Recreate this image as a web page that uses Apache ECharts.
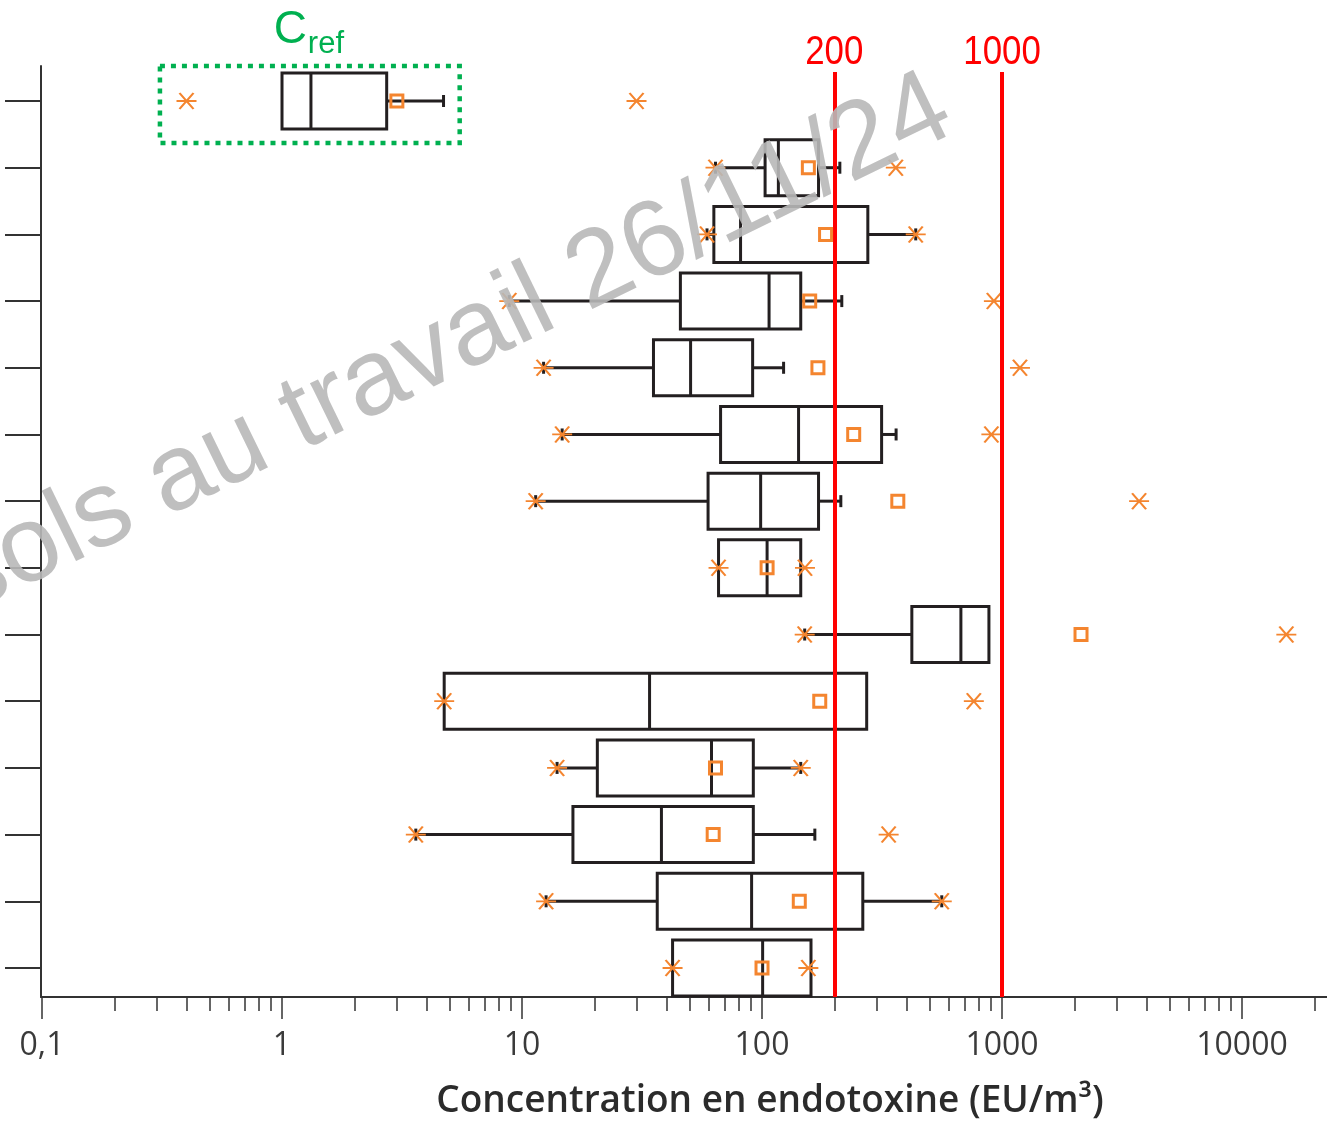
<!DOCTYPE html>
<html>
<head>
<meta charset="utf-8">
<script src="https://cdn.jsdelivr.net/npm/echarts@6/dist/echarts.min.js"></script>
<style>
  html, body { margin: 0; padding: 0; background: #ffffff; }
  #chart { width: 1327px; height: 1121px; }
</style>
</head>
<body>
<div id="chart"></div>
<script>
// ---- data (EU/m3), rows from top (1) to bottom (14) ----
const rows   = [1, 2, 3, 4, 5, 6, 7, 8, 9, 10, 11, 12, 13, 14];
const lowW   = [1.0, 64, 59, 8.85, 12.3, 14.7, 11.4, 65.9, 150.6, 4.74, 14, 3.61, 12.6, 42.4];   // lower whisker end
const q1     = [1.0, 103, 63, 45.7, 35.3, 67.2, 59.6, 65.9, 421, 4.74, 20.6, 16.3, 36.6, 42.4];
const median = [1.32, 117, 81.4, 107, 50.4, 142, 98.7, 105, 674, 34, 61.6, 38.1, 90.5, 100.6];
const q3     = [2.73, 172, 276, 145, 91.4, 315, 172, 145, 882, 273, 92, 92, 263, 160];
const highW  = [4.71, 211, 437, 215, 123, 362, 213, 145, 882, 273, 145, 166, 561, 160];  // upper whisker end
const minV   = [0.40, 64, 59, 8.85, 12.3, 14.7, 11.4, 65.9, 150.6, 4.74, 14, 3.61, 12.6, 42.4];
const maxV   = [30, 361, 437, 925, 1188, 903, 3725, 151, 15300, 763, 145, 337, 561, 156];
const meanV  = [3.01, 156, 184, 158, 171, 241, 368, 105, 2134, 174, 64, 62.6, 143, 100];
const limits = [200, 1000];
const limitLabels = ['200', '1000'];
const majorTicks = [0.1, 1, 10, 100, 1000, 10000];
const minorTicks = [];
majorTicks.forEach(d => { for (let k = 2; k <= 9; k++) minorTicks.push(+(d * k).toPrecision(6)); });
const xMin = 0.09904, xMax = 22600;
const axisTitle = 'Concentration en endotoxine (EU/m³)';
const watermark = 'aérosols au travail 26/11/24';
const refBox = { x0: 0.31, x1: 5.5, y0: 0.415, y1: 1.63 };

const ORANGE = '#f4852f';
const BLACK = '#231f20';
const GREEN = '#00b050';

const chart = echarts.init(document.getElementById('chart'), null, { renderer: 'canvas' });

const boxData = rows.map((r, i) => [r, lowW[i], q1[i], median[i], q3[i], highW[i]]);
const starData = [];
rows.forEach((r, i) => { starData.push([minV[i], r]); starData.push([maxV[i], r]); });
const meanData = rows.map((r, i) => [meanV[i], r]);

function renderBox(params, api) {
  const r = api.value(0);
  const p = [1, 2, 3, 4, 5].map(k => api.coord([api.value(k), r]));
  const y = p[0][1];
  const h = Math.abs(api.coord([1, r + 0.42])[1] - api.coord([1, r - 0.42])[1]);
  const cap = 12;
  const ls = { stroke: BLACK, lineWidth: 3, fill: 'none' };
  const ch = [];
  ch.push({ type: 'rect', shape: { x: p[1][0], y: y - h / 2, width: p[3][0] - p[1][0], height: h }, style: ls });
  ch.push({ type: 'line', shape: { x1: p[2][0], y1: y - h / 2, x2: p[2][0], y2: y + h / 2 }, style: ls });
  if (api.value(1) < api.value(2)) {
    ch.push({ type: 'line', shape: { x1: p[0][0], y1: y, x2: p[1][0], y2: y }, style: ls });
    ch.push({ type: 'line', shape: { x1: p[0][0], y1: y - cap / 2, x2: p[0][0], y2: y + cap / 2 }, style: ls });
  }
  if (api.value(5) > api.value(4)) {
    ch.push({ type: 'line', shape: { x1: p[3][0], y1: y, x2: p[4][0], y2: y }, style: ls });
    ch.push({ type: 'line', shape: { x1: p[4][0], y1: y - cap / 2, x2: p[4][0], y2: y + cap / 2 }, style: ls });
  }
  return { type: 'group', children: ch };
}

const option = {
  animation: false,
  backgroundColor: '#ffffff',
  grid: { left: 41, right: 0, top: 66, bottom: 124, containLabel: false },
  xAxis: [
    {
      type: 'log', logBase: 10, min: xMin, max: xMax, gridIndex: 0,
      axisLine: { show: true, onZero: false, lineStyle: { color: '#333', width: 2 } },
      axisTick: { show: true, inside: false, length: 22, customValues: majorTicks, lineStyle: { color: '#333', width: 1.5 } },
      axisLabel: {
        show: true, customValues: majorTicks, margin: 33,
        fontFamily: 'Open Sans', fontSize: 32, color: '#3a3a3a',
        formatter: v => String(+(+v).toPrecision(6)).replace('.', ',')
      },
      splitLine: { show: false }, minorTick: { show: false }
    },
    {
      type: 'log', logBase: 10, min: xMin, max: xMax, gridIndex: 0, position: 'bottom',
      axisLine: { show: false },
      axisTick: { show: true, inside: false, length: 14, customValues: minorTicks, lineStyle: { color: '#333', width: 1.5 } },
      axisLabel: { show: false },
      splitLine: { show: false }
    }
  ],
  yAxis: {
    type: 'value', inverse: true, min: 0.475, max: 14.435,
    axisLine: { show: true, lineStyle: { color: '#333', width: 2 } },
    axisTick: { show: true, inside: false, length: 36, customValues: rows, lineStyle: { color: '#333', width: 2 } },
    axisLabel: { show: false },
    splitLine: { show: false }
  },
  series: [
    {
      type: 'custom', name: 'box', renderItem: renderBox, data: boxData, z: 2,
      encode: { x: [1, 2, 3, 4, 5], y: 0 }, clip: false
    },
    {
      type: 'scatter', name: 'min/max', data: starData, z: 4, clip: false,
      symbol: 'path://M0,7L20,7M3,0L17,14M3,14L17,0', symbolSize: [20, 16],
      itemStyle: { color: 'rgba(0,0,0,0)', borderColor: ORANGE, borderWidth: 2, opacity: 1 },
      markArea: {
        silent: true,
        itemStyle: { color: 'rgba(0,0,0,0)', borderColor: GREEN, borderWidth: 4.5, borderType: [5, 6] },
        label: { show: false },
        data: [[{ coord: [refBox.x0, refBox.y0] }, { coord: [refBox.x1, refBox.y1] }]]
      }
    },
    {
      type: 'scatter', name: 'mean', data: meanData, z: 5, clip: false,
      symbol: 'rect', symbolSize: 12,
      itemStyle: { color: 'rgba(0,0,0,0)', borderColor: ORANGE, borderWidth: 3, opacity: 1 },
      markLine: {
        silent: true, symbol: 'none', animation: false,
        data: limits.flatMap((v, i) => [
          [
            { coord: [v, 14.435], lineStyle: { color: '#ff0000', width: 4, type: 'solid' }, label: { show: false } },
            { coord: [v, 0.565] }
          ],
          [
            { coord: [v, 0.565], lineStyle: { color: '#2e75b6', width: 2, type: 'solid' }, label: { show: false } },
            { coord: [v, 0.44] }
          ]
        ])
      }
    }
  ]
};
chart.setOption(option);

// annotations placed from axis coordinates
const pTL = chart.convertToPixel({ xAxisIndex: 0, yAxisIndex: 0 }, [refBox.x0, refBox.y0]);
const pBR = chart.convertToPixel({ xAxisIndex: 0, yAxisIndex: 0 }, [refBox.x1, refBox.y1]);
const midX = (pTL[0] + pBR[0]) / 2;
const limitGraphics = limits.map((v, i) => {
  const p = chart.convertToPixel({ xAxisIndex: 0, yAxisIndex: 0 }, [v, 0.565]);
  return {
    type: 'text', x: p[0], y: p[1] - 19, scaleX: 0.85, z: 15, silent: true,
    style: { text: limitLabels[i], font: '41px "Liberation Sans"', fill: '#ff0000', align: 'center', verticalAlign: 'middle' }
  };
});
chart.setOption({
  graphic: [
    {
      type: 'text', x: 770, y: 1101, z: 10, silent: true,
      style: { text: axisTitle, font: '600 37px "Open Sans"', fill: '#2b2b2b', align: 'center', verticalAlign: 'middle' }
    },
    {
      type: 'text', x: midX - 36, y: pTL[1] - 9, z: 20, silent: true,
      style: { text: 'C', font: '46px "Liberation Sans"', fill: GREEN, align: 'left', verticalAlign: 'bottom' }
    },
    {
      type: 'text', x: midX - 2, y: pTL[1] - 2, z: 20, silent: true,
      style: { text: 'ref', font: '31px "Liberation Sans"', fill: GREEN, align: 'left', verticalAlign: 'bottom' }
    },
    ...limitGraphics,
    {
      type: 'text', x: 945, y: 104, rotation: 26 * Math.PI / 180, z: 30, silent: true,
      style: { text: watermark, font: '108px "Liberation Sans"', fill: '#b8b8b8', opacity: 0.9, align: 'right', verticalAlign: 'middle' }
    }
  ]
});
</script>
</body>
</html>
